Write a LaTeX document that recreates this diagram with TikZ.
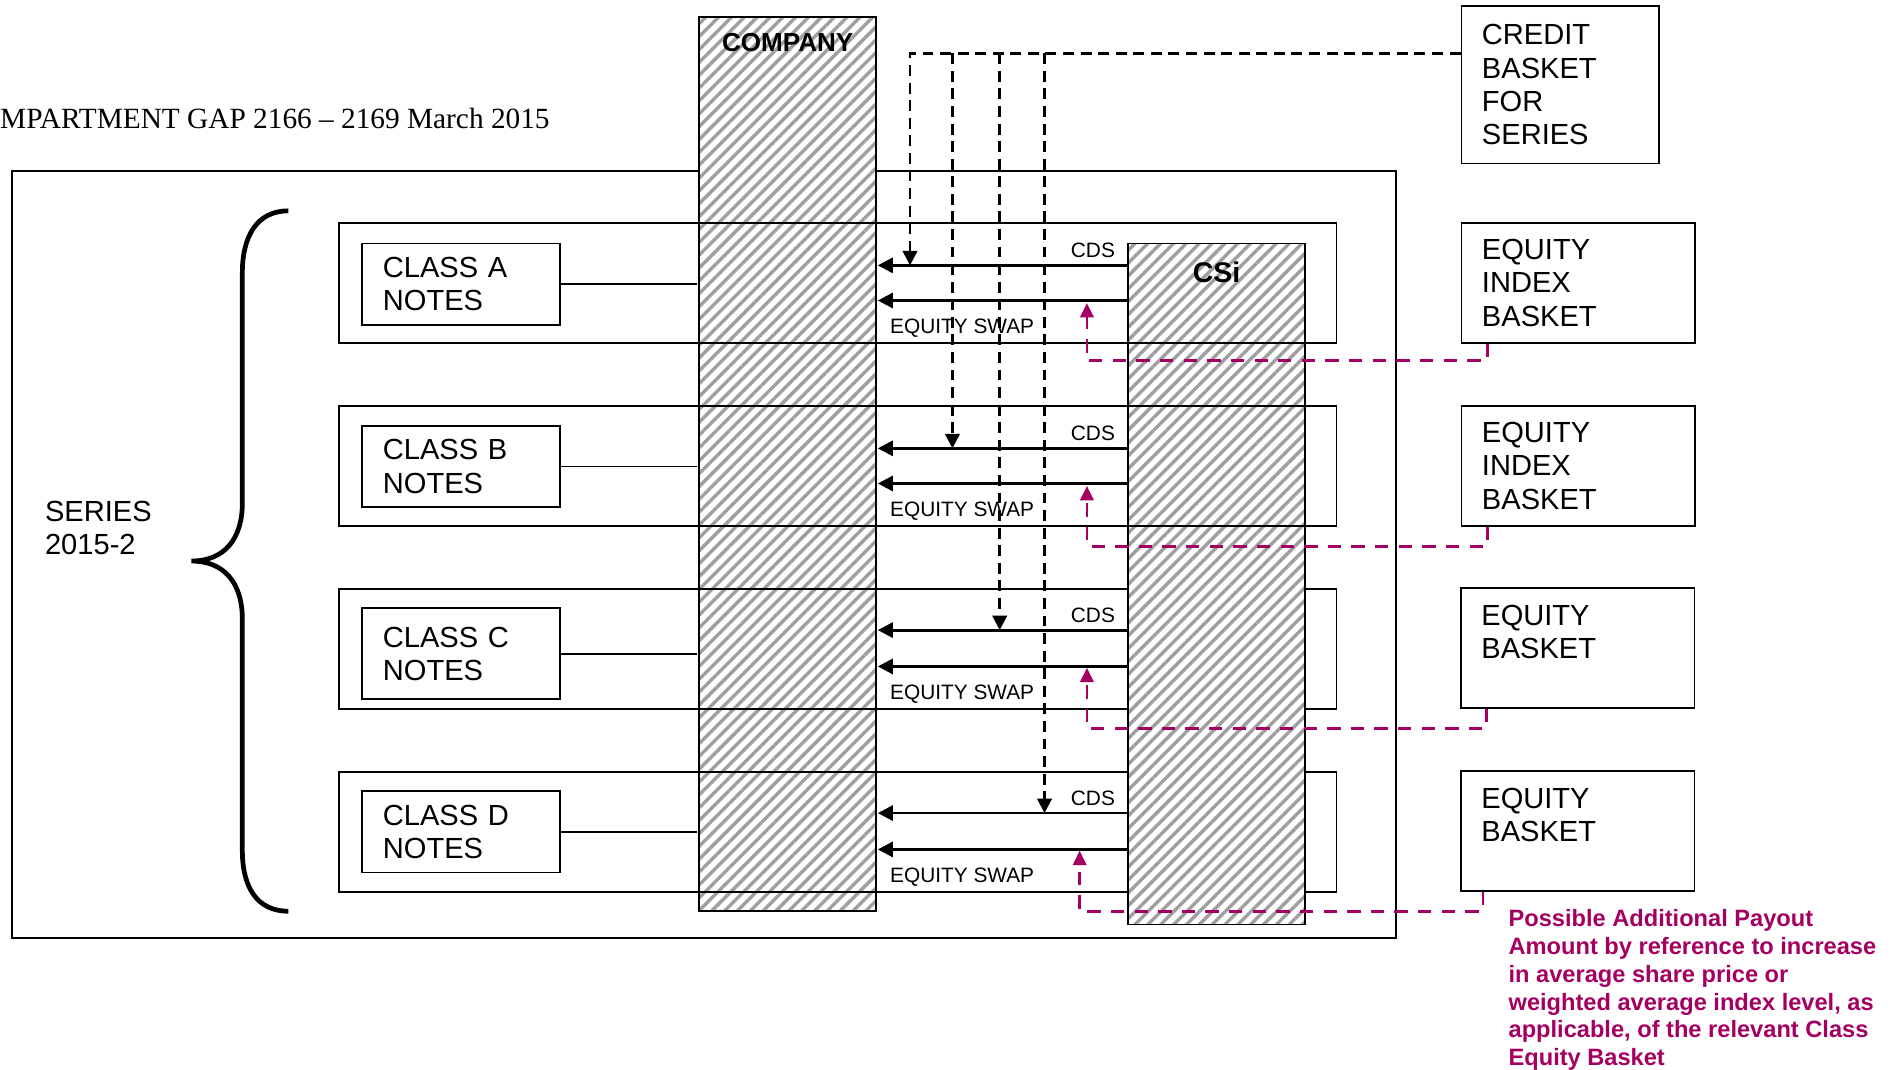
\documentclass[tikz,border=0pt]{standalone}
\usepackage{fontspec}
\setmainfont{Liberation Sans}
\newfontfamily\titlefont{Liberation Serif}
\usetikzlibrary{arrows.meta,positioning,patterns.meta}
\definecolor{payout}{RGB}{164,0,98}

\begin{document}
\begin{tikzpicture}[x=1pt, y=-1pt,
    box/.style={draw, line width=1.4pt, inner sep=0pt},
    txt/.style={font=\fontsize{24}{27.5}\selectfont},
    rowbox/.style={box, minimum width=823pt, minimum height=99pt},
    notebox/.style={box, txt, align=left, text width=129pt, inner xsep=17pt, minimum height=67pt},
    basketbox/.style={box, txt, align=left, inner xsep=17pt},
    hatched/.style={box, preaction={fill=white}, pattern={Lines[angle=45, distance=7.5pt, line width=2.8pt]}, pattern color=gray!75},
    small/.style={inner sep=0pt, font=\fontsize{17.2}{20}\selectfont},
    flow/.style={line width=2.3pt, -{Triangle[length=12.5pt, width=12.5pt]}},
    cbline/.style={line width=2.2pt, dash pattern=on 9pt off 5.5pt, -{Triangle[length=12pt, width=12pt]}},
    payline/.style={payout, line width=2.3pt, dash pattern=on 11pt off 8.5pt, -{Triangle[length=12pt, width=11pt]}}]
  \useasboundingbox (0,0) rectangle (1568,883);
  \node[anchor=base west, inner sep=0pt, font=\titlefont\fontsize{24.2}{28}\selectfont] (title) at (0,106) {MPARTMENT GAP 2166 – 2169 March 2015};

  \node[draw, line width=1.2pt, minimum width=1142pt, minimum height=633pt] (series) at (581,457.5) {};
  \node[anchor=west, align=left, inner sep=0pt, txt] (serieslbl) at (37,436) {SERIES\\2015-2};
  \draw[line width=3.9pt] (238,174) .. controls (212,174) and (200,195) .. (200,225) -- (200,415)
    .. controls (200,445) and (185,463) .. (158,463) .. controls (185,463) and (200,481) .. (200,511)
    -- (200,702) .. controls (200,732) and (212,752) .. (238,752);

  \node[hatched, minimum width=146pt, minimum height=738pt] (company) at (650,383) {};
  \node[font=\bfseries\fontsize{21.5}{24}\selectfont] (companylbl) at (650,35) {COMPANY};
  \node[rowbox] (rowC) at (691.5,535.5) {};
  \node[rowbox] (rowD) at (691.5,686.5) {};
  \node[hatched, minimum width=146pt, minimum height=562pt] (csi) at (1004,482) {};
  \node[font=\bfseries\fontsize{23.5}{26}\selectfont] (csilbl) at (1004,225) {CSi};
  \node[rowbox] (rowA) at (691.5,233.5) {};
  \node[rowbox] (rowB) at (691.5,384.5) {};

  \node[notebox] (notesA) at (380.5,234.5) {CLASS A\\NOTES};
  \node[notebox] (notesB) at (380.5,385) {CLASS B\\NOTES};
  \node[notebox, minimum height=75pt] (notesC) at (380.5,539.5) {CLASS C\\NOTES};
  \node[notebox] (notesD) at (380.5,686.5) {CLASS D\\NOTES};
  \draw[line width=1.4pt] (notesA) -- (notesA -| company.west);
  \draw[line width=1.4pt] (notesB) -- (notesB -| company.west);
  \draw[line width=1.4pt] (notesC) -- (notesC -| company.west);
  \draw[line width=1.4pt] (notesD) -- (notesD -| company.west);

  \node[basketbox, text width=129pt, minimum height=130pt] (credit) at (1287.5,70) {CREDIT\\BASKET\\FOR\\SERIES};
  \node[basketbox, text width=159pt, minimum height=99pt] (eqA) at (1302.5,233.5) {EQUITY\\INDEX\\BASKET};
  \node[basketbox, text width=159pt, minimum height=99pt] (eqB) at (1302.5,384.5) {EQUITY\\INDEX\\BASKET};
  \node[basketbox, text width=159pt, minimum height=99pt] (eqC) at (1302,535) {EQUITY\\BASKET\\~};
  \node[basketbox, text width=159pt, minimum height=99pt] (eqD) at (1302,686) {EQUITY\\BASKET\\~};

  \coordinate (cdsA) at (csi.west |- 0,219);
  \coordinate (esA) at (csi.west |- 0,248);
  \coordinate (cdsB) at (csi.west |- 0,370);
  \coordinate (esB) at (csi.west |- 0,399);
  \coordinate (cdsC) at (csi.west |- 0,520);
  \coordinate (esC) at (csi.west |- 0,550);
  \coordinate (cdsD) at (csi.west |- 0,671);
  \coordinate (esD) at (csi.west |- 0,701);
  \draw[flow] (cdsA) -- (cdsA -| company.east);
  \draw[flow] (esA) -- (esA -| company.east) coordinate (esendA);
  \draw[flow] (cdsB) -- (cdsB -| company.east);
  \draw[flow] (esB) -- (esB -| company.east) coordinate (esendB);
  \draw[flow] (cdsC) -- (cdsC -| company.east);
  \draw[flow] (esC) -- (esC -| company.east) coordinate (esendC);
  \draw[flow] (cdsD) -- (cdsD -| company.east);
  \draw[flow] (esD) -- (esD -| company.east) coordinate (esendD);
  \node[small, above left=6pt and 10pt of cdsA] (cdslblA) {CDS};
  \node[small, below right=15pt and 10pt of esendA] (eslblA) {EQUITY SWAP};
  \node[small, above left=6pt and 10pt of cdsB] (cdslblB) {CDS};
  \node[small, below right=15pt and 10pt of esendB] (eslblB) {EQUITY SWAP};
  \node[small, above left=6pt and 10pt of cdsC] (cdslblC) {CDS};
  \node[small, below right=15pt and 10pt of esendC] (eslblC) {EQUITY SWAP};
  \node[small, above left=6pt and 10pt of cdsD] (cdslblD) {CDS};
  \node[small, below right=15pt and 10pt of esendD] (eslblD) {EQUITY SWAP};

  \coordinate (cbout) at (credit.west |- 0,44);
  \coordinate (dropA) at (751,219);
  \coordinate (dropB) at (786,370);
  \coordinate (dropC) at (825,520);
  \coordinate (dropD) at (862,671);
  \draw[cbline] (cbout) -| (dropA);
  \draw[cbline] (dropB |- cbout) -- (dropB);
  \draw[cbline] (dropC |- cbout) -- (dropC);
  \draw[cbline] (dropD |- cbout) -- (dropD);

  \coordinate (hitA) at (897,250);
  \coordinate (hitB) at (897,401);
  \coordinate (hitC) at (897,551);
  \coordinate (hitD) at (891,702);
  \draw[payline] ([xshift=22pt]eqA.south west) -- ++(0,14) -| (hitA);
  \draw[payline] ([xshift=22pt]eqB.south west) -- ++(0,16) -| (hitB);
  \draw[payline] ([xshift=22pt]eqC.south west) -- ++(0,16) -| (hitC);
  \draw[payline] ([xshift=19pt]eqD.south west) -- ++(0,16) -| (hitD);

  \node[below right=14pt and 40pt of eqD.south west, align=left, inner sep=0pt, text=payout,
    font=\bfseries\fontsize{19.5}{23}\selectfont] (payoutnote) {Possible Additional Payout\\Amount by reference to increase\\in average share price or\\weighted average index level, as\\applicable, of the relevant Class\\Equity Basket};
\end{tikzpicture}
\end{document}
